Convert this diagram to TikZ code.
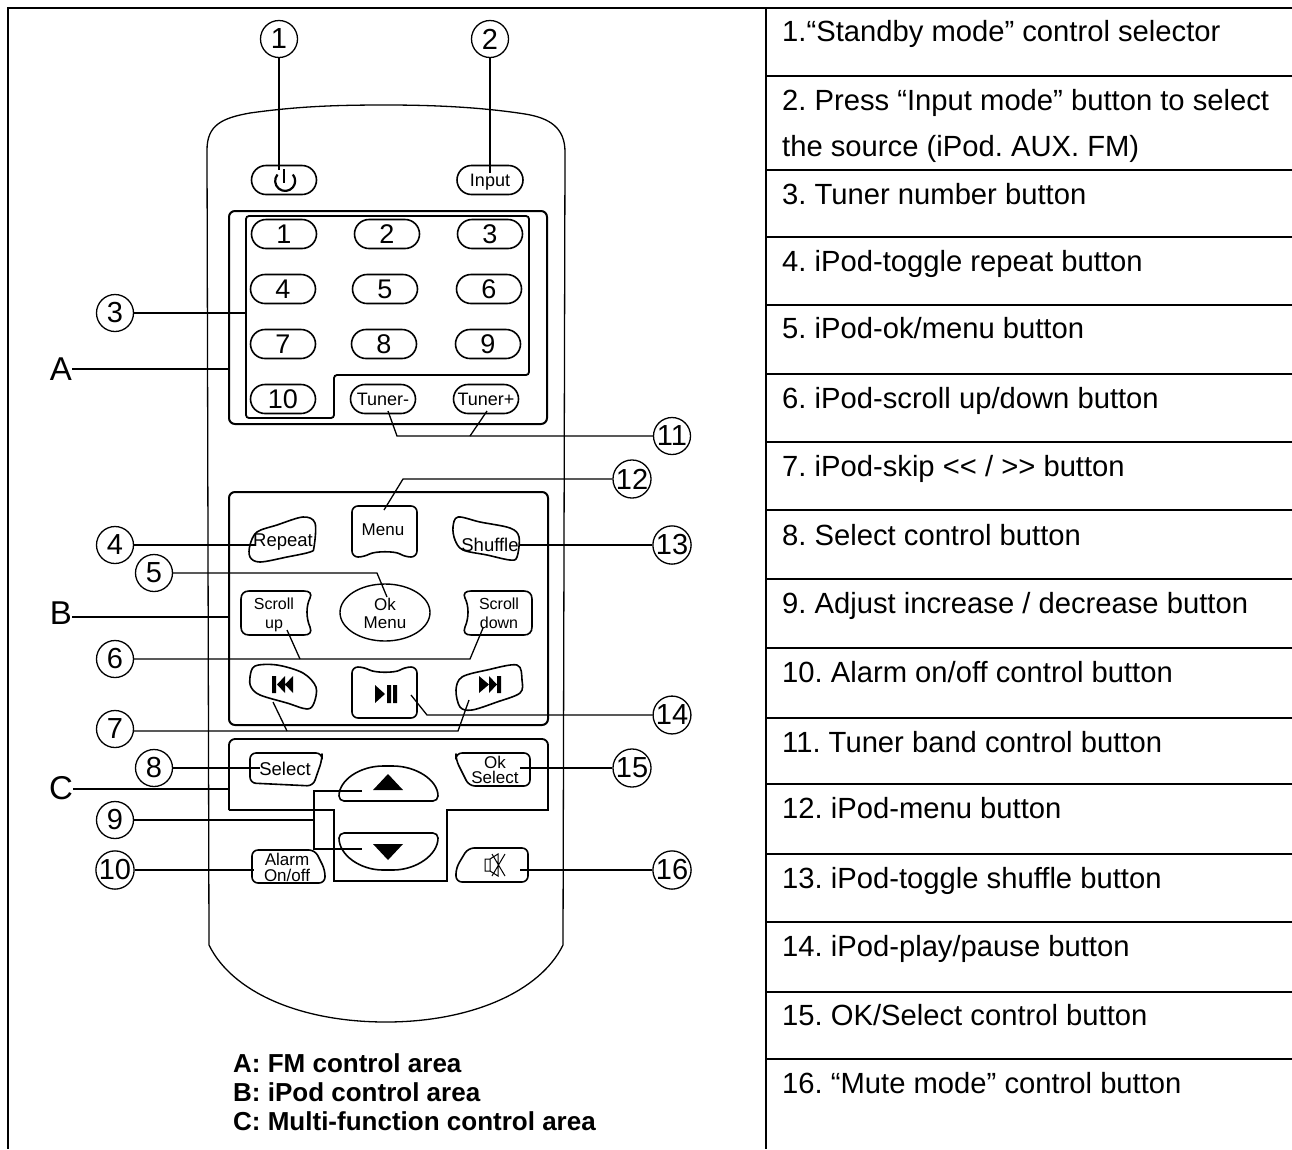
\documentclass[tikz,border=0pt]{standalone}
\usepackage{fontspec}
\setmainfont{Liberation Sans}
\usetikzlibrary{shapes.misc,shapes.geometric}
\newcommand{\fsz}[1]{\fontsize{#1}{#1}\selectfont}
\frenchspacing
\tikzset{
 x=1pt,y=-1pt,
 frame/.style={line width=1.8pt,line cap=butt},
 rule/.style={line width=1.4pt},
 body/.style={line width=1.3pt},
 area/.style={line width=2pt,rounded corners=6pt},
 wire/.style={line width=2pt},
 fine/.style={line width=1.3pt},
 callout/.style={circle,draw,line width=1.3pt,minimum size=37pt,inner sep=0pt,font=\fsz{29}},
 pill/.style={rounded rectangle,draw,line width=1.6pt,minimum width=65pt,minimum height=29pt,inner sep=0pt},
 numkey/.style={pill,font=\fsz{27}},
 smallkey/.style={pill,font=\fsz{18},text height=13pt,text depth=0pt},
 shapeline/.style={line width=1.6pt,line join=round},
 keytext/.style={inner sep=0pt,font=\fsz{18.5},align=center},
 rowtext/.style={anchor=base west,inner sep=0pt,font=\fsz{29.2}},
 legend/.style={anchor=base west,inner sep=0pt,font=\bfseries\fsz{26}},
 arealabel/.style={inner sep=0pt,font=\fsz{33}},
}
\begin{document}
\begin{tikzpicture}
\useasboundingbox (0,0) rectangle (1292,1149);
\fill[white] (0,0) rectangle (1292,1149);
% frame and table
\draw[frame] (1292,8) -- (8,8) -- (8,1149);
\draw[frame] (766,8) -- (766,1149);
\foreach \yy in {76,170,237,305,374,442,510,579,648,718,784,854,922,992,1059}
  \draw[rule] (766,\yy) -- (1292,\yy);
\node[rowtext] (t1) at (782,41) {1.“Standby mode” control selector};
\node[rowtext] (t2a) at (782,110) {2. Press “Input mode” button to select};
\node[rowtext] (t2b) at (782,156) {the source (iPod. AUX. FM)};
\node[rowtext] (t3) at (782,204) {3. Tuner number button};
\node[rowtext] (t4) at (782,271) {4. iPod-toggle repeat button};
\node[rowtext] (t5) at (782,338) {5. iPod-ok/menu button};
\node[rowtext] (t6) at (782,408) {6. iPod-scroll up/down button};
\node[rowtext] (t7) at (782,476) {7. iPod-skip {<}{<} / {>}{>} button};
\node[rowtext] (t8) at (782,545) {8. Select control button};
\node[rowtext] (t9) at (782,613) {9. Adjust increase / decrease button};
\node[rowtext] (t10) at (782,682) {10. Alarm on/off control button};
\node[rowtext] (t11) at (782,752) {11. Tuner band control button};
\node[rowtext] (t12) at (782,818) {12. iPod-menu button};
\node[rowtext] (t13) at (782,888) {13. iPod-toggle shuffle button};
\node[rowtext] (t14) at (782,956) {14. iPod-play/pause button};
\node[rowtext] (t15) at (782,1025) {15. OK/Select control button};
\node[rowtext] (t16) at (782,1093) {16. “Mute mode” control button};
% remote body
\draw[body] (207,150) .. controls (207,125) and (222,118) .. (250,113)
  .. controls (300,106) and (340,105) .. (386,105)
  .. controls (432,105) and (480,107) .. (525,114)
  .. controls (550,118) and (565,128) .. (565,152)
  -- (563,945) .. controls (540,992) and (470,1022) .. (386,1022)
  .. controls (300,1022) and (232,992) .. (209,945) -- cycle;
% areas
\draw[area] (229,211) rectangle (547,424);
\draw[line width=1.8pt,rounded corners=3pt] (246,216) -- (529,216) -- (529,375) -- (334,375) -- (334,418) -- (246,418) -- cycle;
\draw[area] (229,492) rectangle (548,725);
\draw[line width=1.8pt] (229,810) [rounded corners=6pt] -- (229,739) -- (548,739) [sharp corners] -- (548,810) -- (447,810) -- (447,881) -- (334,881) -- (334,810) -- (229,810);
% top and number keys
\node[pill] (kpower) at (284,180) {};
\node[smallkey,minimum width=66pt] (kinput) at (490,180) {Input};
\node[numkey] (k1) at (284,234) {1};
\node[numkey] (k2) at (387,234) {2};
\node[numkey] (k3) at (490,234) {3};
\node[numkey] (k4) at (283,289) {4};
\node[numkey] (k5) at (385,289) {5};
\node[numkey] (k6) at (489,289) {6};
\node[numkey] (k7) at (283,344) {7};
\node[numkey] (k8) at (384,344) {8};
\node[numkey] (k9) at (488,344) {9};
\node[numkey] (k10) at (283,399) {10};
\node[smallkey] (ktm) at (383,399) {Tuner-};
\node[smallkey] (ktp) at (486,399) {Tuner+};
\draw[line width=2.4pt] (284,169) -- (284,183);
\draw[line width=2.2pt] (277.5,174.5) arc[start angle=140,end angle=400,radius=10pt];
% iPod keys
\draw[shapeline] plot[smooth cycle,tension=.55] coordinates {(250,545)(257,532)(277,525)(303,517)(315,523)(314,547)(310,552)(287,557)(260,562)(250,557)};
\node[keytext] (krepeat) at (283,542) {Repeat};
\draw[shapeline,rounded corners=6pt] (352,506) -- (417,506) -- (417,557) -- (405,557) .. controls (395,551) and (375,551) .. (364,557) -- (352,557) -- cycle;
\node[keytext,font=\fsz{17}] (kmenu) at (383,530) {Menu};
\draw[shapeline] plot[smooth cycle,tension=.55] coordinates {(453,527)(458,517)(480,522)(510,528)(519,537)(517,557)(510,560)(487,555)(463,550)(455,540)};
\node[keytext] (kshuffle) at (490,545) {Shuffle};
\draw[shapeline] (276,591) -- (304,591) .. controls (310,591) and (312,594) .. (310,598) .. controls (306,606) and (306,618) .. (310,627) .. controls (312,632) and (310,635) .. (304,635) -- (249,635) .. controls (244,635) and (241,632) .. (241,627) -- (241,599) .. controls (241,594) and (244,591) .. (249,591) -- cycle;
\node[keytext,font=\fsz{16},text depth=0pt,align=center] (kscu) at (274,613) {Scroll\\[3pt]up};
\node[ellipse,draw,line width=1.4pt,minimum width=90pt,minimum height=57pt,inner sep=0pt] (kok) at (385,612.5) {};
\node[keytext,font=\fsz{17}] (kokt) at (385,613) {Ok\\[1pt]Menu};
\draw[shapeline] (500,591) -- (524,591) .. controls (529,591) and (532,594) .. (532,599) -- (532,627) .. controls (532,632) and (529,635) .. (524,635) -- (471,635) .. controls (465,635) and (463,632) .. (465,627) .. controls (469,618) and (469,606) .. (465,598) .. controls (463,594) and (465,591) .. (471,591) -- cycle;
\node[keytext,font=\fsz{16},align=center] (kscd) at (499,613) {Scroll\\[3pt]down};
\draw[shapeline] plot[smooth cycle,tension=.55] coordinates {(250,677)(255,666)(277,665)(303,673)(316,687)(314,703)(307,709)(287,703)(260,695)(251,687)};
\draw[shapeline,rounded corners=6pt] (352,667) -- (364,667) .. controls (375,673) and (395,673) .. (405,667) -- (417,667) -- (417,718) -- (352,718) -- cycle;
\draw[shapeline] plot[smooth cycle,tension=.55] coordinates {(456,690)(462,677)(487,670)(517,665)(522,680)(520,693)(497,702)(472,710)(460,707)};
% media glyphs
\fill (272,676) rectangle (276,693) (285,676) -- (285,693) -- (277,684.5) -- cycle (293,676) -- (293,693) -- (285,684.5) -- cycle;
\fill (479,676) -- (479,693) -- (489,684.5) -- cycle (489,676) -- (489,693) -- (497,684.5) -- cycle (497,676) rectangle (501,693);
\fill (375,685) -- (375,703) -- (385,694) -- cycle (387,685) rectangle (391,703) (393,685) rectangle (397,703);
% multi-function keys
\draw[shapeline,rounded corners=6pt] (250,753) -- (322,753) -- (322,760) -- (313,786) -- (250,783) -- cycle;
\node[keytext] (kselect) at (285,768.5) {Select};
\draw[shapeline,rounded corners=6pt] (456,753) -- (530,753) -- (530,786) -- (469,786) -- (456,760) -- cycle;
\node[keytext,font=\fsz{17}] (kokselect) at (495,770) {Ok\\[-2pt]Select};
\draw[shapeline,rounded corners=5pt] (339,801) .. controls (339,780) and (360,766) .. (388,766) .. controls (416,766) and (438,780) .. (438,801) -- cycle;
\draw[shapeline,rounded corners=5pt] (339,833) .. controls (339,855) and (360,870) .. (388,870) .. controls (416,870) and (438,855) .. (438,833) -- cycle;
\fill (373,790) -- (403,790) -- (388,774) -- cycle;
\fill (373,844) -- (403,844) -- (388,860) -- cycle;
\draw[shapeline,rounded corners=6pt] (252,850) -- (315,850) -- (325,870) -- (325,883) -- (252,883) -- cycle;
\node[keytext,font=\fsz{17}] (kalarm) at (287,867) {Alarm\\[-1pt]On/off};
\draw[shapeline,rounded corners=6pt] (468,848) -- (528,848) -- (528,882) -- (456,882) -- (456,868) -- cycle;
\draw[line width=1pt] (485,859) rectangle (490,871) (490,859) -- (498,854) -- (498,876) -- (490,871) (492,854) -- (505,876) (505,854) -- (492,876);
% callouts
\node[callout] (c1) at (279,39) {1};
\node[callout] (c2) at (490,39) {2};
\node[callout] (c3) at (115,313) {3};
\node[callout] (c4) at (115,545) {4};
\node[callout] (c5) at (154,573) {5};
\node[callout] (c6) at (115,659) {6};
\node[callout] (c7) at (115,729) {7};
\node[callout] (c8) at (154,768) {8};
\node[callout] (c9) at (115,820) {9};
\node[callout] (c10) at (115,870) {10};
\node[callout] (c11) at (672,436) {11};
\node[callout] (c12) at (632,479) {12};
\node[callout] (c13) at (672,545) {13};
\node[callout] (c14) at (672,715) {14};
\node[callout] (c15) at (632,768) {15};
\node[callout] (c16) at (672,870) {16};
% connector ends
\coordinate (e1) at (279,170);
\coordinate (e2) at (490,173);
\coordinate (e3) at (246,313);
\coordinate (e4) at (256,545);
\coordinate (e5a) at (377,573);
\coordinate (e5) at (387,597);
\coordinate (e6a) at (300,659);
\coordinate (e6b) at (287,630);
\coordinate (e6c) at (470,659);
\coordinate (e6d) at (483,628);
\coordinate (e7a) at (287,731);
\coordinate (e7b) at (273,702);
\coordinate (e7c) at (458,731);
\coordinate (e7d) at (469,700);
\coordinate (e8) at (260,768);
\coordinate (e9a) at (314,791);
\coordinate (e9b) at (314,849);
\coordinate (e9c) at (314,820);
\coordinate (e9d) at (362,791);
\coordinate (e9e) at (362,849);
\coordinate (e10) at (254,870);
\coordinate (e11a) at (397,436);
\coordinate (e11b) at (388,411);
\coordinate (e11c) at (470,436);
\coordinate (e11d) at (487,411);
\coordinate (e12a) at (403,479);
\coordinate (e12b) at (384,510);
\coordinate (e13) at (520,545);
\coordinate (e14a) at (427,715);
\coordinate (e14b) at (411,695);
\coordinate (e15) at (520,768);
\coordinate (e16) at (520,870);
% connectors
\draw[wire] (c1.south) -- (e1);
\draw[wire] (c2.south) -- (e2);
\draw[wire] (c3.east) -- (e3);
\draw[wire] (c4.east) -- (e4);
\draw[fine] (c5.east) -- (e5a) -- (e5);
\draw[fine] (c6.east) -- (e6c) -- (e6d);
\draw[fine] (e6a) -- (e6b);
\draw[fine] (c7.east |- e7a) -- (e7c) -- (e7d);
\draw[fine] (e7a) -- (e7b);
\draw[wire] (c8.east) -- (e8);
\draw[wire] (c9.east) -- (e9c);
\draw[fine] (e9d) -- (e9a) -- (e9b) -- (e9e);
\draw[wire] (c10.east) -- (e10);
\draw[fine] (c11.west) -- (e11a) -- (e11b);
\draw[fine] (e11c) -- (e11d);
\draw[fine] (c12.west) -- (e12a) -- (e12b);
\draw[wire] (c13.west) -- (e13);
\draw[fine] (c14.west) -- (e14a) -- (e14b);
\draw[wire] (c15.west) -- (e15);
\draw[wire] (c16.west) -- (e16);
% area labels
\node[arealabel] (la) at (61,369) {A};
\node[arealabel] (lb) at (61,613) {B};
\node[arealabel] (lc) at (61,788) {C};
\coordinate (ea) at (229,369);
\coordinate (eb) at (229,617);
\coordinate (ec) at (229,789);
\draw[wire] (la.east) -- (ea);
\draw[wire] (lb.east |- eb) -- (eb);
\draw[wire] (lc.east |- ec) -- (ec);
% legend
\node[legend] (l1) at (233,1072) {A: FM control area};
\node[legend] (l2) at (233,1101) {B: iPod control area};
\node[legend] (l3) at (233,1130) {C: Multi-function control area};
\end{tikzpicture}
\end{document}
